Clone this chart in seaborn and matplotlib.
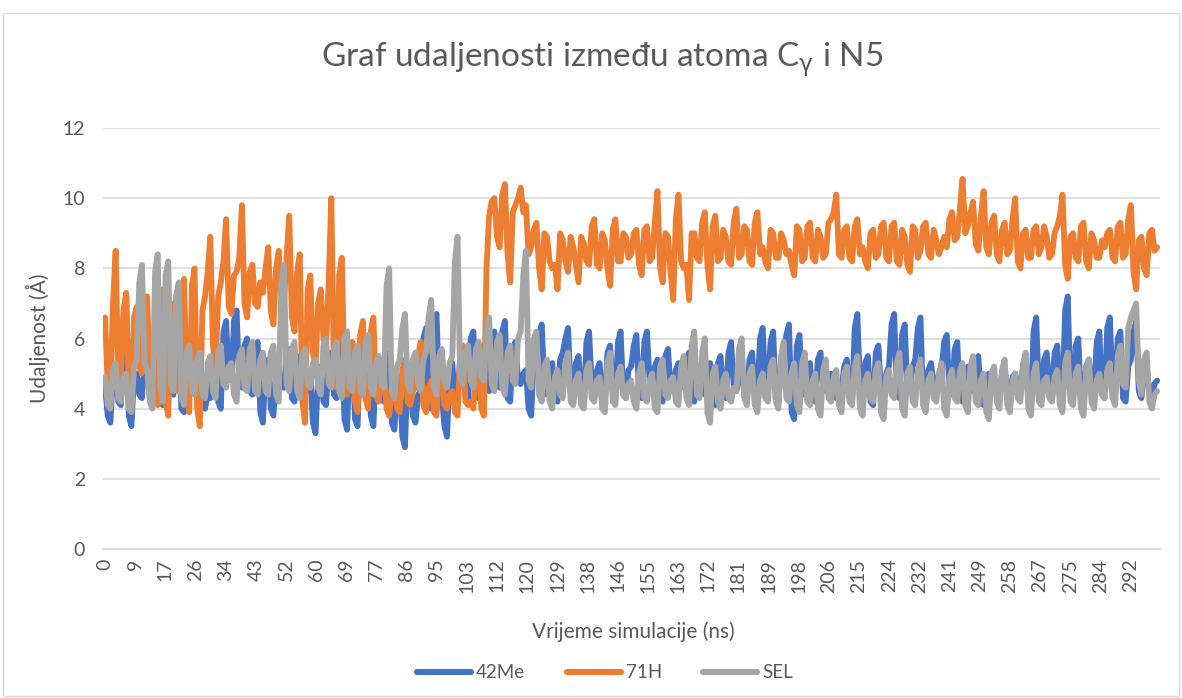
import numpy as np
import pandas as pd
import matplotlib
matplotlib.use("Agg")
import matplotlib.pyplot as plt
import seaborn as sns

# ---- data ----
# *_a: samples on the 1.5 ns grid (0, 1.5, 3, ... 300 ns)
# *_b: samples between them (0.75, 2.25, ... 299.25 ns)
step_ns = 1.5
me42_a = [
    4.6, 3.6, 5.2, 4.1, 7.2, 3.5, 5.0, 4.3, 5.6, 4.2,
    4.8, 4.1, 5.5, 4.4, 5.9, 3.9, 5.1, 4.5, 5.4, 4.0,
    4.3, 5.6, 4.0, 6.5, 4.8, 6.8, 4.6, 6.0, 4.4, 5.9,
    3.6, 5.4, 3.8, 5.1, 4.6, 5.7, 4.2, 5.5, 4.4, 5.0,
    3.3, 5.2, 4.1, 5.6, 4.3, 6.2, 3.4, 5.8, 3.5, 6.0,
    6.0, 3.5, 5.4, 4.2, 5.6, 3.4, 4.9, 2.9, 5.2, 3.6,
    4.5, 6.3, 4.0, 6.7, 4.4, 3.2, 5.3, 4.1, 5.7, 4.3,
    6.2, 4.3, 5.8, 4.5, 6.2, 4.6, 6.5, 4.2, 5.9, 4.7,
    5.1, 3.8, 5.7, 6.4, 4.4, 5.3, 4.2, 5.6, 6.3, 4.5,
    5.5, 4.1, 6.2, 4.6, 5.3, 4.2, 5.8, 4.4, 6.2, 4.3,
    5.2, 6.1, 4.3, 6.2, 4.7, 5.4, 4.2, 5.7, 4.5, 5.3,
    4.6, 5.6, 4.2, 5.0, 4.4, 5.3, 4.1, 5.5, 4.3, 5.9,
    4.5, 5.2, 4.3, 5.6, 4.4, 6.3, 4.6, 6.2, 4.2, 5.5,
    6.4, 3.7, 6.1, 4.4, 5.3, 4.2, 5.6, 4.5, 5.0, 4.3,
    4.6, 5.4, 4.2, 6.7, 4.5, 5.5, 4.1, 5.8, 4.4, 5.2,
    6.7, 4.3, 6.4, 4.5, 5.4, 6.6, 4.2, 5.3, 4.6, 5.1,
    6.1, 4.4, 5.9, 4.2, 5.2, 4.5, 5.5, 4.1, 5.0, 4.6,
    4.4, 5.2, 4.3, 5.0, 4.5, 5.4, 4.2, 6.6, 4.4, 5.6,
    4.5, 5.8, 4.3, 7.2, 4.4, 6.0, 4.2, 5.4, 4.5, 6.2,
    4.3, 6.6, 4.6, 6.2, 4.2, 5.4, 6.5, 4.3, 5.2, 4.4,
    4.8,
]
me42_b = [
    3.8, 5.0, 4.2, 6.6, 3.8, 4.9, 4.4, 5.4, 4.3, 4.7,
    4.2, 5.3, 4.5, 5.7, 4.0, 5.0, 4.6, 5.2, 4.1, 4.4,
    5.4, 4.2, 6.2, 4.9, 6.5, 4.7, 5.8, 4.5, 5.6, 3.9,
    5.2, 4.0, 5.0, 4.6, 5.5, 4.3, 5.3, 4.5, 4.9, 3.6,
    5.0, 4.2, 5.4, 4.4, 5.9, 3.7, 5.6, 3.7, 5.8, 5.8,
    3.8, 5.2, 4.3, 5.4, 3.6, 4.8, 3.2, 5.0, 3.8, 4.4,
    6.0, 4.2, 6.4, 4.5, 3.5, 5.1, 4.2, 5.5, 4.4, 6.0,
    4.4, 5.6, 4.6, 6.0, 4.7, 6.2, 4.3, 5.7, 4.8, 5.0,
    4.0, 5.5, 6.1, 4.6, 5.1, 4.3, 5.4, 6.0, 4.6, 5.3,
    4.3, 5.9, 4.7, 5.1, 4.3, 5.6, 4.5, 5.9, 4.4, 5.1,
    5.8, 4.4, 5.9, 4.8, 5.2, 4.3, 5.5, 4.6, 5.1, 4.7,
    5.4, 4.3, 4.9, 4.5, 5.1, 4.2, 5.3, 4.4, 5.6, 4.6,
    5.0, 4.4, 5.4, 4.5, 6.0, 4.7, 5.9, 4.3, 5.3, 6.1,
    3.9, 5.8, 4.5, 5.1, 4.3, 5.4, 4.6, 4.9, 4.4, 4.7,
    5.2, 4.3, 6.3, 4.6, 5.3, 4.2, 5.6, 4.5, 5.0, 6.4,
    4.4, 6.1, 4.6, 5.2, 6.3, 4.3, 5.1, 4.7, 5.0, 5.9,
    4.5, 5.7, 4.3, 5.0, 4.6, 5.3, 4.2, 4.9, 4.7, 4.5,
    5.0, 4.4, 4.9, 4.6, 5.2, 4.3, 6.2, 4.5, 5.4, 4.6,
    5.6, 4.4, 6.8, 4.5, 5.8, 4.3, 5.2, 4.6, 5.9, 4.4,
    6.3, 4.7, 6.0, 4.3, 5.2, 6.2, 4.5, 5.0, 4.5, 4.7,
]
h71_a = [
    6.6, 4.4, 8.5, 4.8, 7.3, 4.2, 6.9, 5.0, 7.2, 4.3,
    4.1, 7.4, 3.8, 7.0, 4.5, 7.7, 3.9, 8.0, 3.5, 7.2,
    8.9, 5.2, 7.6, 9.4, 6.7, 7.9, 9.8, 6.6, 8.1, 6.9,
    7.3, 8.6, 6.4, 8.5, 7.0, 9.5, 6.2, 8.4, 3.6, 7.8,
    5.2, 7.4, 5.8, 10.0, 4.6, 8.3, 4.4, 5.9, 3.9, 6.5,
    4.0, 6.6, 4.2, 5.1, 3.8, 4.7, 3.9, 5.4, 4.1, 4.6,
    5.9, 3.9, 4.8, 3.8, 5.2, 4.0, 4.5, 3.8, 5.8, 4.1,
    4.0, 5.6, 3.8, 9.5, 10.0, 8.6, 10.4, 7.6, 9.8, 10.3,
    9.8, 8.6, 9.3, 7.4, 8.9, 8.0, 7.4, 8.8, 7.9, 8.6,
    7.6, 8.7, 8.1, 9.4, 8.0, 8.8, 7.5, 9.4, 8.2, 8.9,
    8.4, 9.1, 7.8, 9.2, 8.3, 10.2, 7.6, 8.9, 7.1, 10.1,
    8.0, 7.1, 9.0, 8.2, 9.6, 7.4, 9.5, 8.3, 8.9, 8.1,
    9.7, 8.4, 9.1, 8.1, 9.6, 8.6, 8.0, 9.0, 8.3, 8.8,
    8.5, 7.8, 9.1, 8.3, 9.3, 8.2, 8.9, 8.4, 9.4, 10.1,
    8.3, 9.2, 8.2, 9.4, 8.6, 8.0, 9.1, 8.4, 9.3, 8.2,
    9.3, 8.1, 8.9, 7.9, 9.1, 8.5, 9.3, 8.3, 8.8, 8.6,
    8.6, 9.6, 8.9, 10.55, 9.2, 9.9, 8.5, 10.2, 8.4, 9.5,
    8.2, 9.3, 8.5, 10.0, 8.0, 9.1, 8.3, 9.2, 8.6, 8.9,
    8.4, 9.2, 10.1, 7.7, 9.0, 8.2, 9.3, 8.0, 8.8, 8.3,
    8.6, 9.1, 8.2, 9.3, 8.4, 9.8, 7.4, 8.9, 7.8, 9.1,
    8.6,
]
h71_b = [
    4.6, 7.0, 5.0, 6.8, 4.5, 6.6, 5.2, 6.9, 4.6, 4.5,
    6.8, 4.2, 6.6, 4.6, 7.2, 4.3, 7.5, 4.0, 6.8, 7.9,
    5.8, 7.2, 8.2, 6.9, 7.8, 8.3, 7.0, 7.9, 7.0, 7.6,
    8.0, 6.8, 8.0, 7.2, 8.3, 6.6, 7.9, 4.2, 7.4, 5.6,
    7.0, 6.0, 7.6, 5.0, 7.8, 4.8, 5.6, 4.2, 6.1, 4.3,
    6.2, 4.4, 4.9, 4.0, 4.6, 4.0, 5.1, 4.2, 4.5, 5.5,
    4.1, 4.6, 3.9, 5.0, 4.1, 4.4, 3.9, 5.5, 4.2, 4.2,
    5.4, 4.0, 8.0, 9.9, 8.9, 10.1, 8.4, 9.6, 10.0, 9.6,
    8.4, 9.1, 8.0, 9.0, 8.2, 8.1, 9.0, 8.2, 8.9, 8.1,
    8.9, 8.2, 9.2, 8.1, 9.0, 8.0, 9.1, 8.2, 9.0, 8.3,
    9.0, 8.1, 9.1, 8.2, 9.3, 8.0, 9.0, 7.9, 9.4, 8.2,
    8.1, 9.0, 8.3, 9.3, 8.1, 9.2, 8.2, 9.1, 8.2, 9.3,
    8.3, 9.2, 8.2, 9.3, 8.4, 8.2, 9.1, 8.3, 9.0, 8.4,
    8.1, 9.2, 8.2, 9.2, 8.3, 9.1, 8.3, 9.3, 9.6, 8.4,
    9.1, 8.3, 9.2, 8.4, 8.2, 9.0, 8.3, 9.2, 8.3, 9.2,
    8.2, 9.1, 8.1, 9.2, 8.3, 9.2, 8.4, 9.1, 8.4, 8.9,
    9.4, 8.8, 9.7, 9.0, 9.6, 8.7, 9.5, 8.6, 9.3, 8.4,
    9.1, 8.4, 9.4, 8.2, 9.0, 8.3, 9.1, 8.4, 9.2, 8.3,
    9.0, 9.5, 8.1, 8.9, 8.3, 9.2, 8.2, 9.0, 8.3, 8.8,
    9.0, 8.3, 9.2, 8.3, 9.4, 7.9, 8.8, 8.0, 9.0, 8.5,
]
sel_a = [
    4.9, 4.0, 5.3, 4.2, 5.0, 3.9, 5.4, 8.1, 5.1, 4.0,
    8.4, 4.2, 8.2, 4.5, 7.6, 4.1, 5.8, 4.4, 5.6, 4.3,
    5.5, 4.3, 5.8, 4.6, 5.3, 4.2, 5.7, 4.5, 5.9, 4.4,
    5.6, 4.4, 5.8, 4.2, 8.1, 4.5, 5.9, 4.3, 5.7, 4.6,
    5.4, 4.4, 6.0, 4.6, 5.9, 4.3, 6.2, 4.5, 5.8, 4.4,
    6.1, 4.4, 5.5, 4.6, 8.0, 4.3, 5.4, 6.7, 4.5, 5.6,
    4.5, 5.6, 7.1, 4.4, 5.7, 4.6, 5.5, 8.9, 4.7, 5.8,
    4.6, 5.9, 4.8, 6.6, 4.5, 6.1, 4.4, 5.8, 4.7, 6.2,
    8.5, 4.6, 6.2, 4.2, 5.4, 4.0, 5.1, 4.3, 5.6, 4.1,
    5.0, 4.0, 5.3, 4.2, 4.9, 3.9, 5.6, 4.1, 5.2, 4.3,
    4.8, 4.0, 5.3, 4.2, 5.0, 3.9, 5.4, 4.3, 4.9, 4.1,
    5.5, 4.1, 6.2, 4.3, 6.0, 3.6, 5.2, 4.0, 5.0, 4.2,
    4.5, 6.0, 4.1, 5.2, 3.9, 5.0, 4.2, 5.4, 4.0, 5.9,
    4.2, 5.3, 3.9, 5.6, 4.1, 5.0, 3.8, 5.4, 4.2, 5.1,
    3.9, 5.2, 4.1, 5.5, 3.8, 5.0, 4.2, 5.3, 3.7, 5.1,
    4.3, 5.6, 3.8, 5.2, 4.1, 5.4, 3.9, 5.0, 4.2, 5.3,
    3.8, 5.1, 4.2, 5.3, 3.9, 5.5, 4.1, 5.0, 3.7, 5.2,
    4.0, 5.4, 3.9, 5.0, 4.2, 5.6, 3.8, 5.3, 4.1, 4.9,
    4.2, 5.1, 3.9, 5.6, 4.1, 5.2, 3.8, 5.4, 4.0, 5.0,
    4.3, 5.3, 4.1, 5.8, 4.6, 6.6, 7.0, 4.4, 5.6, 4.0,
    4.5,
]
sel_b = [
    4.1, 5.1, 4.3, 4.9, 4.0, 5.2, 7.6, 5.3, 4.2, 7.9,
    4.6, 7.8, 4.7, 7.2, 4.3, 5.6, 4.5, 5.4, 4.4, 5.3,
    4.5, 5.6, 4.7, 5.2, 4.4, 5.5, 4.6, 5.7, 4.5, 5.4,
    4.5, 5.6, 4.4, 7.6, 4.7, 5.7, 4.5, 5.5, 4.7, 5.3,
    4.6, 5.8, 4.7, 5.7, 4.5, 6.0, 4.6, 5.6, 4.5, 5.9,
    4.6, 5.3, 4.7, 7.5, 4.5, 5.2, 6.3, 4.7, 5.4, 4.7,
    5.4, 6.6, 4.6, 5.5, 4.8, 5.3, 8.2, 4.9, 5.6, 4.8,
    5.7, 4.9, 6.2, 4.7, 5.9, 4.6, 5.6, 4.8, 6.0, 7.8,
    4.8, 6.0, 4.4, 5.2, 4.2, 4.9, 4.4, 5.3, 4.2, 4.8,
    4.1, 5.1, 4.3, 4.8, 4.0, 5.3, 4.2, 5.0, 4.4, 4.7,
    4.2, 5.0, 4.3, 4.8, 4.0, 5.2, 4.4, 4.8, 4.2, 5.2,
    4.3, 5.8, 4.4, 5.6, 3.9, 5.0, 4.2, 4.8, 4.3, 4.6,
    5.7, 4.3, 5.0, 4.1, 4.8, 4.3, 5.2, 4.2, 5.5, 4.3,
    5.0, 4.1, 5.3, 4.2, 4.8, 4.0, 5.1, 4.3, 4.9, 4.1,
    5.0, 4.2, 5.2, 4.0, 4.8, 4.3, 5.1, 3.9, 4.9, 4.4,
    5.3, 4.0, 5.0, 4.2, 5.1, 4.1, 4.8, 4.3, 5.0, 4.0,
    4.9, 4.3, 5.1, 4.1, 5.2, 4.2, 4.8, 3.9, 5.0, 4.2,
    5.1, 4.1, 4.8, 4.3, 5.3, 4.0, 5.0, 4.2, 4.8, 4.3,
    4.9, 4.1, 5.3, 4.2, 5.0, 4.0, 5.1, 4.2, 4.8, 4.4,
    5.1, 4.3, 5.5, 4.7, 6.3, 6.8, 4.8, 5.4, 4.2, 4.4,
]
series_names = ["42Me", "71H", "SEL"]
colors = ["#4472C4", "#ED7D31", "#A5A5A5"]
tick_step_ns = 8.6
tick_labels = ["0", "9", "17", "26", "34", "43", "52", "60", "69", "77", "86",
               "95", "103", "112", "120", "129", "138", "146", "155", "163",
               "172", "181", "189", "198", "206", "215", "224", "232", "241",
               "249", "258", "267", "275", "284", "292"]
y_ticks = [0, 2, 4, 6, 8, 10, 12]

title_txt = "Graf udaljenosti između atoma C$_\\mathrm{\\gamma}$ i N5"
xlabel_txt = "Vrijeme simulacije (ns)"
ylabel_txt = "Udaljenost (Å)"


def interleave(a, b):
    out = []
    for i, v in enumerate(a):
        out.append(v)
        if i < len(b):
            out.append(b[i])
    return out


# ---- build table ----
frames = []
for name, a, b in zip(series_names, [me42_a, h71_a, sel_a], [me42_b, h71_b, sel_b]):
    vals = interleave(a, b)
    t = np.arange(len(vals)) * (step_ns / 2)
    frames.append(pd.DataFrame({"t": t, "d": vals, "serija": name}))
df = pd.concat(frames, ignore_index=True)
t_end = df["t"].max()

sns.set_theme(style="white")
plt.rcParams["font.family"] = ["Lato", "DejaVu Sans"]
text_col = "#595959"

fig = plt.figure(figsize=(11.82, 6.98), dpi=100)
ax = fig.add_axes([103 / 1182, 1 - 549 / 698, (1160 - 103) / 1182, (549 - 128) / 698])

sns.lineplot(data=df, x="t", y="d", hue="serija", hue_order=series_names,
             palette=colors, linewidth=4.2, estimator=None, sort=False, ax=ax)
for ln in ax.lines:
    ln.set_linewidth(4.2)
    ln.set_solid_joinstyle("round")
    ln.set_solid_capstyle("round")

ax.set_ylim(0, 12)
ax.set_xlim(-0.6, t_end + 0.8)
ax.set_yticks(y_ticks)
ax.set_yticklabels([str(v) for v in y_ticks], color=text_col, fontsize=14)
xt = np.arange(len(tick_labels)) * tick_step_ns
ax.set_xticks(xt)
ax.set_xticklabels(tick_labels, rotation=90, color=text_col, fontsize=14)
ax.tick_params(axis="x", length=0, pad=7)
ax.tick_params(axis="y", length=0, pad=13)
ax.yaxis.grid(True, color="#D9D9D9", linewidth=1.2, zorder=0)
ax.xaxis.grid(False)
ax.set_axisbelow(True)
for s in ["top", "right", "left"]:
    ax.spines[s].set_visible(False)
ax.spines["bottom"].set_color("#D9D9D9")
ax.spines["bottom"].set_linewidth(1.2)

ax.set_xlabel(xlabel_txt, color=text_col, fontsize=15)
ax.xaxis.set_label_coords((633 - 103) / 1057, (549 - 632) / 421)
ax.xaxis.label.set_va("center")
ax.set_ylabel(ylabel_txt, color=text_col, fontsize=15)
ax.yaxis.set_label_coords((38 - 103) / 1057, (549 - 338) / 421)
ax.yaxis.label.set_va("center")
fig.text(602 / 1182, 1 - 60 / 698, title_txt, ha="center", va="center",
         color=text_col, fontsize=24)

sns.move_legend(ax, "center", bbox_to_anchor=(605 / 1182, 1 - 673 / 698),
                bbox_transform=fig.transFigure, ncol=3,
                frameon=False, title=None, fontsize=13.5, handlelength=2.9,
                columnspacing=2.2, handletextpad=0.25)
leg = ax.get_legend()
for txt in leg.get_texts():
    txt.set_color(text_col)
for h in leg.legend_handles:
    h.set_linewidth(4.4)
    h.set_solid_capstyle("round")

fig.patches.append(plt.Rectangle((3 / 1182, 1 - 696 / 698), 1176 / 1182, 683 / 698,
                                 transform=fig.transFigure, fill=False,
                                 edgecolor="#D9D9D9", linewidth=1))
fig.savefig("out.png", dpi=100, facecolor="white")
